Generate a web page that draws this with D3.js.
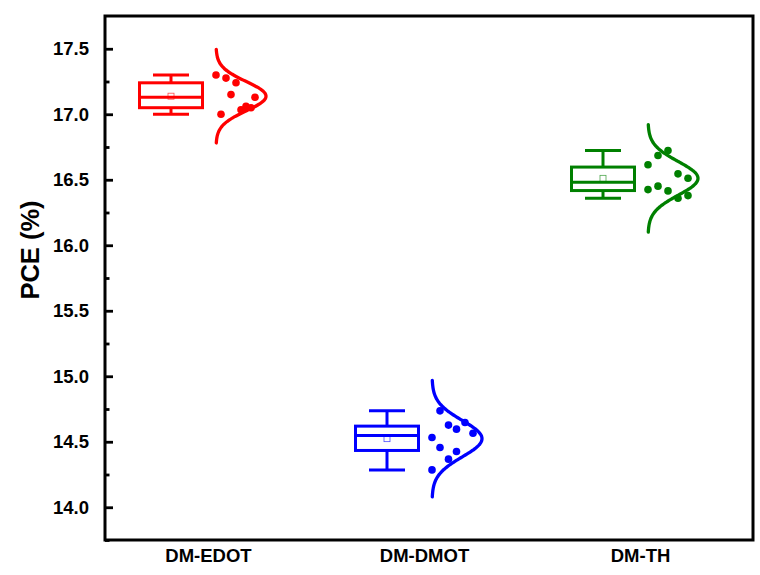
<!DOCTYPE html>
<html>
<head>
<meta charset="utf-8">
<script src="https://cdn.jsdelivr.net/npm/d3@7"></script>
<style>
  html, body { margin: 0; padding: 0; background: #ffffff; }
  svg { display: block; }
  text { font-family: "Liberation Sans", Arial, sans-serif; font-weight: bold; }
</style>
</head>
<body>
<svg id="chart" width="760" height="575"></svg>
<script>
// Device groups along the x axis
const groups = ["DM-EDOT", "DM-DMOT", "DM-TH"];
const groupColors = ["#ff0000", "#0000ff", "#008000"];

// PCE (%) of individual devices in each group
const pceEDOT = [17.30, 17.276, 17.24, 17.15, 17.13, 17.00, 17.034, 17.06, 17.05];
const pceDMOT = [14.736, 14.627, 14.596, 14.647, 14.565, 14.532, 14.456, 14.426, 14.367, 14.285];
const pceTH   = [16.723, 16.685, 16.614, 16.545, 16.512, 16.425, 16.451, 16.415, 16.359, 16.379];

// Horizontal spread of the scattered points, as a fraction of the curve width
const spreadEDOT = [0, 0.2, 0.4, 0.3, 0.78, 0.1, 0.5, 0.6, 0.7];
const spreadDMOT = [0.16, 0.33, 0.49, 0.66, 0.82, 0, 0.16, 0.49, 0.33, 0];
const spreadTH   = [0.4, 0.2, 0, 0.6, 0.8, 0, 0.2, 0.4, 0.6, 0.8];

// Axis ticks
const yMajorTicks = [14.0, 14.5, 15.0, 15.5, 16.0, 16.5, 17.0, 17.5];
const yMinorTicks = [13.75, 14.25, 14.75, 15.25, 15.75, 16.25, 16.75, 17.25];

const series = [pceEDOT, pceDMOT, pceTH];
const spreads = [spreadEDOT, spreadDMOT, spreadTH];

const svg = d3.select("#chart");
const frame = { left: 105, right: 753, top: 16, bottom: 540 };

const y = d3.scaleLinear().domain([13.75, 17.75]).range([frame.bottom, frame.top]);
const x = d3.scalePoint().domain(groups).range([100, 748]).padding(0.5);

const boxOffset = -37, boxWidth = 63, capWidth = 36;
const curveOffset = 8, curveWidth = 50, curveSpan = 3.2;

// Each group: box plot on the left, normal curve with data points on the right
groups.forEach((g, i) => {
  const vals = series[i];
  const col = groupColors[i];
  const sorted = vals.slice().sort(d3.ascending);
  const q1 = d3.quantile(sorted, 0.25), q3 = d3.quantile(sorted, 0.75);
  const med = d3.median(sorted), mean = d3.mean(vals), sd = d3.deviation(vals);
  const lo = d3.min(vals), hi = d3.max(vals);
  const cx = x(g);
  const bx = cx + boxOffset;
  const layer = svg.append("g").attr("stroke", col).attr("fill", "none");

  // whiskers and caps
  layer.append("line").attr("x1", bx).attr("x2", bx).attr("y1", y(hi)).attr("y2", y(q3)).attr("stroke-width", 3);
  layer.append("line").attr("x1", bx).attr("x2", bx).attr("y1", y(q1)).attr("y2", y(lo)).attr("stroke-width", 3);
  [lo, hi].forEach(v => layer.append("line")
    .attr("x1", bx - capWidth / 2).attr("x2", bx + capWidth / 2)
    .attr("y1", y(v)).attr("y2", y(v)).attr("stroke-width", 3));

  // box and median
  layer.append("rect").attr("x", bx - boxWidth / 2).attr("width", boxWidth)
    .attr("y", y(q3)).attr("height", y(q1) - y(q3)).attr("stroke-width", 3);
  layer.append("line").attr("x1", bx - boxWidth / 2).attr("x2", bx + boxWidth / 2)
    .attr("y1", y(med)).attr("y2", y(med)).attr("stroke-width", 3);

  // mean marker
  layer.append("rect").attr("x", bx - 3).attr("y", y(mean) - 3).attr("width", 6).attr("height", 6)
    .attr("stroke-width", 0.8).attr("stroke-opacity", 0.7);

  // normal distribution curve
  const base = cx + curveOffset;
  const zs = d3.range(-curveSpan, curveSpan + 0.001, 0.05);
  const line = d3.line()
    .x(z => base + curveWidth * Math.exp(-0.5 * z * z))
    .y(z => y(mean + z * sd))
    .curve(d3.curveBasis);
  layer.append("path").attr("d", line(zs)).attr("stroke-width", 3.3).attr("stroke-linecap", "round");

  // data points
  svg.append("g").attr("fill", col).selectAll("circle").data(vals).join("circle")
    .attr("cx", (v, j) => base + spreads[i][j] * curveWidth)
    .attr("cy", v => y(v))
    .attr("r", 3.8);
});

// Frame
svg.append("rect")
  .attr("x", frame.left).attr("y", frame.top)
  .attr("width", frame.right - frame.left).attr("height", frame.bottom - frame.top)
  .attr("fill", "none").attr("stroke", "#000").attr("stroke-width", 3);

// Y axis: inward ticks
const yAxis = d3.axisLeft(y).tickValues(yMajorTicks).tickSize(-8).tickPadding(16)
  .tickFormat(d3.format(".1f"));
const gy = svg.append("g").attr("transform", `translate(${frame.left},0)`).call(yAxis);
gy.select(".domain").remove();
gy.selectAll(".tick line").attr("stroke", "#000").attr("stroke-width", 2.8);
gy.selectAll(".tick text").attr("font-size", 18.5).attr("fill", "#000")
  .attr("font-family", "'Liberation Sans', Arial, sans-serif").attr("font-weight", "bold");

const gyMinor = svg.append("g").attr("transform", `translate(${frame.left},0)`)
  .call(d3.axisLeft(y).tickValues(yMinorTicks).tickSize(-4.5).tickFormat(""));
gyMinor.select(".domain").remove();
gyMinor.selectAll(".tick line").attr("stroke", "#000").attr("stroke-width", 2.8);

// X axis labels only
const gx = svg.append("g").attr("transform", `translate(0,${frame.bottom})`)
  .call(d3.axisBottom(x).tickSize(0).tickPadding(9));
gx.select(".domain").remove();
gx.selectAll(".tick text").attr("font-size", 18.5).attr("fill", "#000")
  .attr("font-family", "'Liberation Sans', Arial, sans-serif").attr("font-weight", "bold");

// Y axis title
svg.append("text")
  .attr("transform", `translate(39,${(frame.top + frame.bottom) / 2 - 28}) rotate(-90)`)
  .attr("text-anchor", "middle")
  .attr("font-size", 25.5)
  .text("PCE (%)");
</script>
</body>
</html>
